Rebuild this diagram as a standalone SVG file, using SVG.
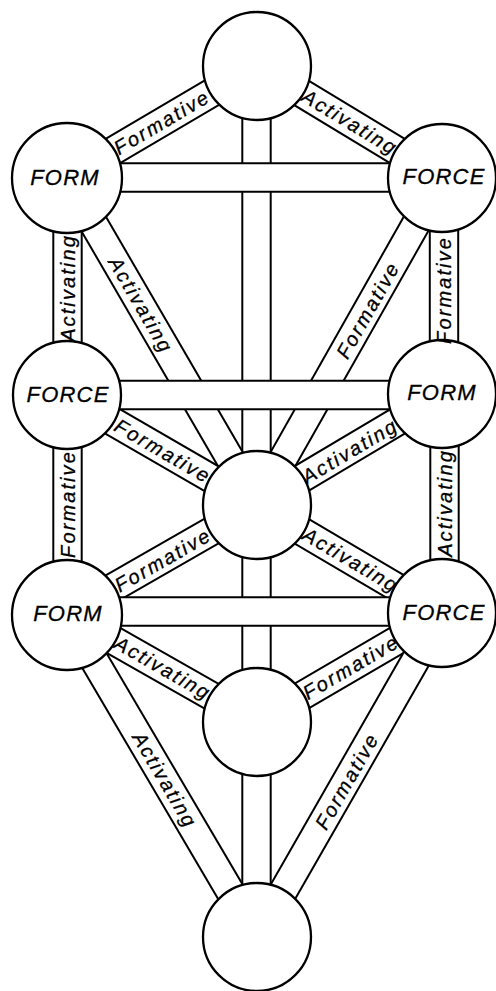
<svg xmlns="http://www.w3.org/2000/svg" width="496" height="991" viewBox="0 0 496 991">
<style>
.bo{stroke:#000;stroke-width:30.4;fill:none}
.bi{stroke:#fff;stroke-width:26.4;fill:none}
.node circle{fill:#fff;stroke:#000;stroke-width:2.3}
text{font-family:"Liberation Sans",Arial,Helvetica,sans-serif;font-style:italic;fill:#000;stroke:#000;stroke-width:0.3}
.lbl{font-size:20px;letter-spacing:2.1px;text-anchor:middle}
.nl{font-size:22px;letter-spacing:1.2px;text-anchor:middle}
</style>
<rect width="496" height="991" fill="#fff"/>
<g id="connectors">
  <g id="e-kether-tiphareth"><line class="bo" x1="256.5" y1="66" x2="256.5" y2="505"/><line class="bi" x1="256.5" y1="66" x2="256.5" y2="505"/></g>
  <g id="e-tiphareth-yesod"><line class="bo" x1="256.5" y1="505" x2="256.5" y2="722"/><line class="bi" x1="256.5" y1="505" x2="256.5" y2="722"/></g>
  <g id="e-yesod-malkuth"><line class="bo" x1="256.5" y1="722" x2="256.5" y2="937"/><line class="bi" x1="256.5" y1="722" x2="256.5" y2="937"/></g>
  <g id="e-kether-binah"><line class="bo" x1="257" y1="66" x2="67" y2="178"/><line class="bi" x1="257" y1="66" x2="67" y2="178"/></g>
  <g id="e-kether-chokmah"><line class="bo" x1="257" y1="66" x2="442" y2="178"/><line class="bi" x1="257" y1="66" x2="442" y2="178"/></g>
  <g id="e-binah-geburah"><line class="bo" x1="67.5" y1="178" x2="67.5" y2="395"/><line class="bi" x1="67.5" y1="178" x2="67.5" y2="395"/></g>
  <g id="e-chokmah-chesed"><line class="bo" x1="444" y1="178" x2="444" y2="395"/><line class="bi" x1="444" y1="178" x2="444" y2="395"/></g>
  <g id="e-geburah-hod"><line class="bo" x1="67.5" y1="395" x2="67.5" y2="614"/><line class="bi" x1="67.5" y1="395" x2="67.5" y2="614"/></g>
  <g id="e-chesed-netzach"><line class="bo" x1="444.5" y1="395" x2="444.5" y2="614"/><line class="bi" x1="444.5" y1="395" x2="444.5" y2="614"/></g>
  <g id="e-binah-tiphareth"><line class="bo" x1="67" y1="178" x2="257" y2="505"/><line class="bi" x1="67" y1="178" x2="257" y2="505"/></g>
  <g id="e-chokmah-tiphareth"><line class="bo" x1="442" y1="178" x2="257" y2="505"/><line class="bi" x1="442" y1="178" x2="257" y2="505"/></g>
  <g id="e-geburah-tiphareth"><line class="bo" x1="67" y1="395" x2="257" y2="505"/><line class="bi" x1="67" y1="395" x2="257" y2="505"/></g>
  <g id="e-chesed-tiphareth"><line class="bo" x1="442" y1="395" x2="257" y2="505"/><line class="bi" x1="442" y1="395" x2="257" y2="505"/></g>
  <g id="e-tiphareth-hod"><line class="bo" x1="257" y1="505" x2="67" y2="614"/><line class="bi" x1="257" y1="505" x2="67" y2="614"/></g>
  <g id="e-tiphareth-netzach"><line class="bo" x1="257" y1="505" x2="442" y2="614"/><line class="bi" x1="257" y1="505" x2="442" y2="614"/></g>
  <g id="e-hod-yesod"><line class="bo" x1="67" y1="614" x2="257" y2="722"/><line class="bi" x1="67" y1="614" x2="257" y2="722"/></g>
  <g id="e-netzach-yesod"><line class="bo" x1="442" y1="614" x2="257" y2="722"/><line class="bi" x1="442" y1="614" x2="257" y2="722"/></g>
  <g id="e-hod-malkuth"><line class="bo" x1="67" y1="614" x2="257" y2="937"/><line class="bi" x1="67" y1="614" x2="257" y2="937"/></g>
  <g id="e-netzach-malkuth"><line class="bo" x1="442" y1="614" x2="257" y2="937"/><line class="bi" x1="442" y1="614" x2="257" y2="937"/></g>
  <g id="e-binah-chokmah"><line class="bo" x1="67" y1="177.5" x2="442" y2="177.5"/><line class="bi" x1="67" y1="177.5" x2="442" y2="177.5"/></g>
  <g id="e-geburah-chesed"><line class="bo" x1="67" y1="395" x2="442" y2="395"/><line class="bi" x1="67" y1="395" x2="442" y2="395"/></g>
  <g id="e-hod-netzach"><line class="bo" x1="67" y1="611.5" x2="442" y2="611.5"/><line class="bi" x1="67" y1="611.5" x2="442" y2="611.5"/></g>
</g>
<g id="n-kether" class="node"><circle cx="257" cy="66" r="54"/></g>
<g id="n-binah" class="node"><circle cx="67" cy="178" r="55"/><text class="nl" x="65" y="185">FORM</text></g>
<g id="n-chokmah" class="node"><circle cx="442" cy="178" r="54"/><text class="nl" x="444" y="184">FORCE</text></g>
<g id="n-geburah" class="node"><circle cx="67" cy="395" r="54"/><text class="nl" x="68" y="402">FORCE</text></g>
<g id="n-chesed" class="node"><circle cx="442" cy="394" r="54"/><text class="nl" x="442" y="400">FORM</text></g>
<g id="n-tiphareth" class="node"><circle cx="257" cy="505" r="54"/></g>
<g id="n-hod" class="node"><circle cx="67" cy="615" r="55"/><text class="nl" x="68" y="621">FORM</text></g>
<g id="n-netzach" class="node"><circle cx="442" cy="613" r="54"/><text class="nl" x="444" y="620">FORCE</text></g>
<g id="n-yesod" class="node"><circle cx="257" cy="722" r="54"/></g>
<g id="n-malkuth" class="node"><circle cx="257" cy="937" r="54"/></g>
<g id="labels">
  <text class="lbl" transform="translate(162 122) rotate(-30.5)" y="7">Formative</text>
  <text class="lbl" transform="translate(350 122) rotate(31.1)" y="7">Activating</text>
  <text class="lbl" transform="translate(67.5 288) rotate(-90)" y="7">Activating</text>
  <text class="lbl" transform="translate(444 290) rotate(-90)" y="7">Formative</text>
  <text class="lbl" transform="translate(141 305) rotate(59.8)" y="7">Activating</text>
  <text class="lbl" transform="translate(368 310) rotate(-60.5)" y="7">Formative</text>
  <text class="lbl" transform="translate(163 451) rotate(30.1)" y="7">Formative</text>
  <text class="lbl" transform="translate(350 451) rotate(-30.7)" y="7">Activating</text>
  <text class="lbl" transform="translate(67.5 504) rotate(-90)" y="7">Formative</text>
  <text class="lbl" transform="translate(444.5 503) rotate(-90)" y="7">Activating</text>
  <text class="lbl" transform="translate(163 560) rotate(-29.8)" y="7">Formative</text>
  <text class="lbl" transform="translate(351 560) rotate(30.5)" y="7">Activating</text>
  <text class="lbl" transform="translate(163 668) rotate(29.6)" y="7">Activating</text>
  <text class="lbl" transform="translate(351 667) rotate(-30.3)" y="7">Formative</text>
  <text class="lbl" transform="translate(165 780) rotate(59.5)" y="7">Activating</text>
  <text class="lbl" transform="translate(347 781) rotate(-60.2)" y="7">Formative</text>
</g>
</svg>
